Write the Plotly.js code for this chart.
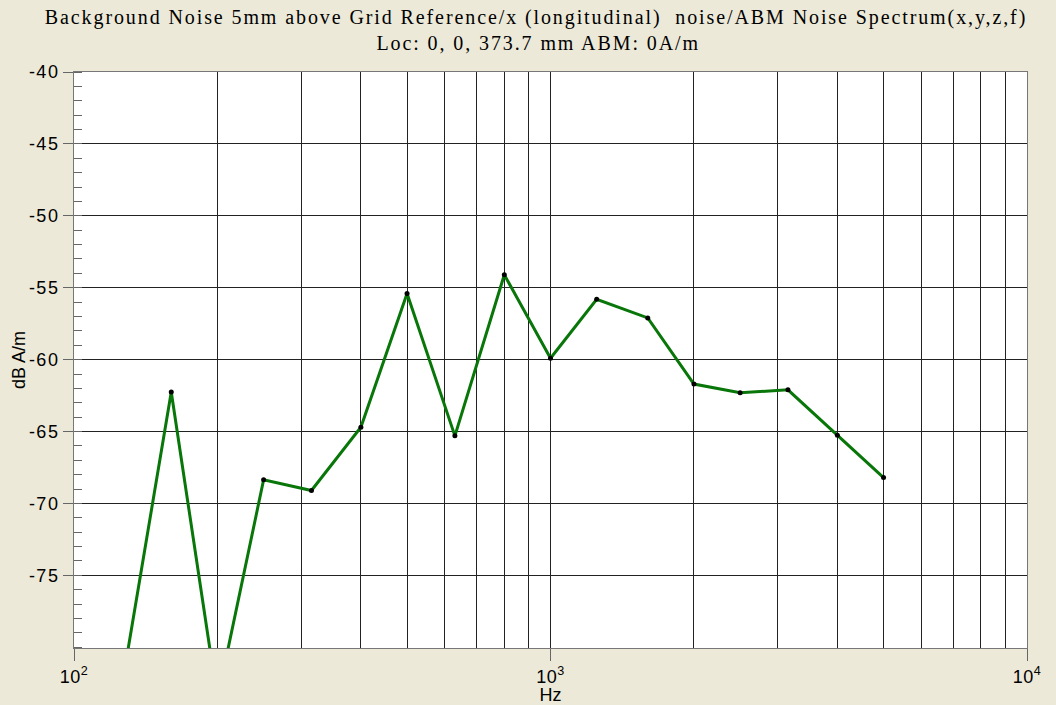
<!DOCTYPE html>
<html>
<head>
<meta charset="utf-8">
<script src="https://cdn.plot.ly/plotly-3.0.1.min.js"></script>
<style>
  html, body { margin: 0; padding: 0; background: #ECE9D8; }
  #chart { width: 1056px; height: 705px; }
  #chart .gtitle, #chart .annotation-text { letter-spacing: 1.9px; }
  #chart .ytick text { letter-spacing: 1.5px; }
  #chart .xtick text { letter-spacing: 0.5px; }
</style>
</head>
<body>
<div id="chart"></div>
<script>
// Third-octave band centre frequencies (Hz)
const freqHz = [125, 160, 200, 250, 315, 400, 500, 630, 800, 1000, 1250, 1600, 2000, 2500, 3150, 4000, 5000];
// Background noise level (dB A/m)
const noiseDb = [-83.4, -62.25, -83.6, -68.35, -69.1, -64.7, -55.4, -65.3, -54.1, -59.9, -55.8, -57.1, -61.7, -62.3, -62.1, -65.25, -68.2];

const yTickVals = [-75, -70, -65, -60, -55, -50, -45, -40];
const yTickText = ['-75', '-70', '-65', '-60', '-55', '-50', '-45', '-40'];
const xTickVals = [100, 1000, 10000];
const xTickText = ['10<sup>2</sup>', '10<sup>3</sup>', '10<sup>4</sup>'];
const xMinorGrid = [200, 300, 400, 500, 600, 700, 800, 900, 2000, 3000, 4000, 5000, 6000, 7000, 8000, 9000];

const titleLine1 = 'Background Noise 5mm above Grid Reference/x (longitudinal)  noise/ABM Noise Spectrum(x,y,z,f)';
const titleLine2 = 'Loc: 0, 0, 373.7 mm ABM: 0A/m';

const trace = {
  x: freqHz,
  y: noiseDb,
  type: 'scatter',
  mode: 'lines+markers',
  line: { color: '#087608', width: 3 },
  marker: { color: '#000000', size: 5 },
  cliponaxis: true,
  hoverinfo: 'x+y'
};

const axisFont = { family: 'Liberation Sans, Arial, sans-serif', size: 18, color: '#000' };
const serifFont = { family: 'Liberation Serif, Times New Roman, serif', size: 20, color: '#000' };

const layout = {
  width: 1056,
  height: 705,
  paper_bgcolor: '#ECE9D8',
  plot_bgcolor: '#FFFFFF',
  margin: { l: 74, r: 29, t: 72, b: 57, pad: 0 },
  showlegend: false,
  title: {
    text: titleLine1,
    font: serifFont,
    xref: 'container', yref: 'container',
    x: 0.5076, xanchor: 'center',
    y: 1 - 16.5 / 705, yanchor: 'middle'
  },
  annotations: [{
    text: titleLine2,
    xref: 'paper', yref: 'paper',
    x: (538 - 74) / 953, xanchor: 'center',
    y: 1 + (72 - 42.5) / 576, yanchor: 'middle',
    showarrow: false,
    font: serifFont
  }],
  xaxis: {
    type: 'log',
    range: [2, 4],
    tickvals: xTickVals,
    ticktext: xTickText,
    ticks: 'outside',
    ticklen: 12,
    tickcolor: '#666',
    tickfont: axisFont,
    showgrid: true,
    gridcolor: '#222',
    gridwidth: 1,
    showline: true,
    linecolor: '#777',
    linewidth: 1,
    mirror: true,
    zeroline: false,
    minor: {
      tickvals: xMinorGrid,
      showgrid: true,
      gridcolor: '#222',
      gridwidth: 1,
      ticks: ''
    },
    title: { text: 'Hz', font: axisFont, standoff: 5 }
  },
  yaxis: {
    range: [-80.05, -40],
    tickvals: yTickVals,
    ticktext: yTickText,
    ticks: 'outside',
    ticklen: 10,
    tickcolor: '#666',
    tickfont: axisFont,
    showgrid: true,
    gridcolor: '#222',
    gridwidth: 1,
    showline: true,
    linecolor: '#777',
    linewidth: 1,
    mirror: true,
    zeroline: false,
    minor: {
      dtick: 1,
      ticks: 'inside',
      ticklen: 8,
      tickcolor: '#666',
      showgrid: false
    },
    title: { text: 'dB A/m', font: axisFont, standoff: 3 }
  }
};

Plotly.newPlot('chart', [trace], layout, { displayModeBar: false, staticPlot: true });
</script>
</body>
</html>
